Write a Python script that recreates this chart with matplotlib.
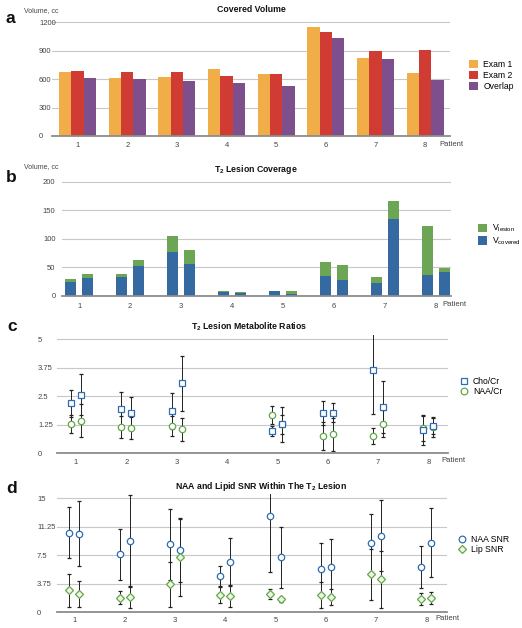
import numpy as np
import matplotlib.pyplot as plt
from matplotlib.lines import Line2D

W, H = 522, 628

plt.rcParams['font.family'] = ['Liberation Sans Narrow', 'Liberation Sans', 'DejaVu Sans']
plt.rcParams['mathtext.fontset'] = 'custom'
plt.rcParams['mathtext.rm'] = 'Liberation Sans'
plt.rcParams['mathtext.it'] = 'Liberation Sans'
plt.rcParams['mathtext.bf'] = 'Liberation Sans:bold'

patients = np.arange(1, 9)

# a: covered volume, cc
exam1 = [675, 608, 622, 703, 654, 1146, 823, 668]
exam2 = [682, 672, 675, 636, 650, 1097, 893, 904]
overlap = [608, 605, 580, 559, 524, 1030, 812, 594]

# b: T2 lesion coverage, cc (two exams per patient)
lesion_1 = [29, 38.6, 104.7, 7.6, 8.8, 58.5, 32.7, 123]
covered_1 = [24.6, 32.7, 76.6, 7, 8.8, 34, 22, 36]
lesion_2 = [38, 62, 80.7, 6.4, 8.2, 53, 166, 48.5]
covered_2 = [31.6, 52, 55.6, 4, 3, 28, 135, 41]

# c: metabolite ratios (mean, sd), patient 4 has none
nan = np.nan
cho_1 = [2.19, 1.96, 1.86, nan, 0.98, 1.78, 3.65, 1.02]
cho_1_sd = [0.59, 0.74, 0.80, nan, 0.22, 0.53, 1.92, 0.66]
cho_2 = [2.56, 1.75, 3.07, nan, 1.27, 1.78, 2.02, 1.21]
cho_2_sd = [0.90, 0.70, 1.20, nan, 0.77, 0.41, 1.15, 0.35]
naa_1 = [1.27, 1.17, 1.20, nan, 1.68, 0.76, 0.76, 1.10]
naa_1_sd = [0.39, 0.48, 0.44, nan, 0.40, 0.61, 0.35, 0.55]
naa_2 = [1.43, 1.11, 1.05, nan, 1.27, 0.83, 1.29, 1.14]
naa_2_sd = [0.73, 0.48, 0.50, nan, 0.42, 0.73, 0.59, 0.44]

# d: SNR (mean, sd)
naa_snr_1 = [10.48, 7.63, 8.95, 4.78, 12.63, 5.66, 9.08, 5.96]
naa_snr_1_sd = [3.34, 3.33, 4.65, 1.36, 7.32, 3.42, 3.86, 2.77]
naa_snr_2 = [10.35, 9.43, 8.20, 6.58, 7.24, 5.92, 10.09, 9.17]
naa_snr_2_sd = [4.30, 6.05, 4.26, 3.16, 4.03, 3.68, 4.69, 4.51]
lip_snr_1 = [2.90, 1.93, 3.68, 2.28, 2.46, 2.28, 5.00, 1.75]
lip_snr_1_sd = [2.20, 0.83, 2.99, 1.10, 0.65, 1.67, 3.33, 0.84]
lip_snr_2 = [2.46, 2.06, 7.24, 2.15, 1.71, 1.97, 4.34, 1.89]
lip_snr_2_sd = [1.71, 1.44, 5.10, 1.45, 0.35, 1.06, 3.77, 0.83]

ORANGE, RED, PURPLE = '#F0AD48', '#D03B33', '#7E4F8D'
GREEN, BLUE = '#6CA553', '#3569A2'
MBLUE, MGREEN = '#2F6CB0', '#62A748'
TXT = '#444444'
BOLD = ['Liberation Sans', 'DejaVu Sans']

fig = plt.figure(figsize=(W / 100, H / 100), dpi=100)


def axes_px(l, t, r, b):
    return fig.add_axes([l / W, 1 - b / H, (r - l) / W, (b - t) / H])


def style(ax, xlim, ylim, yticks, ylabels, left_px, ylab_x, ylab_ha, xpad):
    ax.set_xlim(*xlim)
    ax.set_ylim(*ylim)
    ax.set_xticks(patients)
    ax.set_xticklabels([str(p) for p in patients])
    ax.set_yticks(yticks)
    ax.set_yticklabels(ylabels)
    for s in ['left', 'right', 'top']:
        ax.spines[s].set_visible(False)
    ax.spines['bottom'].set_color('#8c8c8c')
    ax.spines['bottom'].set_linewidth(1.3)
    ax.yaxis.grid(True, color='#c8c8c8', lw=0.8)
    ax.set_axisbelow(True)
    ax.tick_params(length=0, labelsize=5.5, labelcolor=TXT)
    ax.tick_params(axis='x', pad=xpad)
    ax.tick_params(axis='y', pad=(left_px - ylab_x) * 0.72)
    for lab in ax.get_yticklabels():
        lab.set_ha(ylab_ha)


def ftext(x, y, s, **kw):
    return fig.text(x / W, 1 - y / H, s, **kw)


# ---- a
ax_a = axes_px(52, 18, 450, 136)
w = 0.247
ax_a.bar(patients - w, exam1, w, color=ORANGE, label='Exam 1')
ax_a.bar(patients, exam2, w, color=RED, label='Exam 2')
ax_a.bar(patients + w, overlap, w, color=PURPLE, label='Overlap')
style(ax_a, (0.485, 8.5), (0, 1245), [0, 300, 600, 900, 1200],
      ['0', '300', '600', '900', '1200'], 52, 39, 'left', 4)
ax_a.legend(loc='upper left', bbox_to_anchor=(469 / W, 1 - 60 / H),
            bbox_transform=fig.transFigure, frameon=False, fontsize=6.2,
            handlelength=1.1, handleheight=1.1, handletextpad=0.55,
            labelspacing=0.2, borderpad=0, borderaxespad=0)

# ---- b
ax_b = axes_px(61.7, 177.4, 451, 295.7)
bw, off = 0.222, 0.169
ax_b.bar(patients - off, lesion_1, bw, color=GREEN, label=r'V$_{\mathregular{lesion}}$')
ax_b.bar(patients - off, covered_1, bw, color=BLUE, label=r'V$_{\mathregular{covered}}$')
ax_b.bar(patients + off, lesion_2, bw, color=GREEN)
ax_b.bar(patients + off, covered_2, bw, color=BLUE)
style(ax_b, (0.659, 8.29), (0, 207.6), [0, 50, 100, 150, 200],
      ['0', '50', '100', '150', '200'], 61.7, 55.5, 'right', 5)
ax_b.legend(loc='upper left', bbox_to_anchor=(478 / W, 1 - 223 / H),
            bbox_transform=fig.transFigure, frameon=False, fontsize=6.2,
            handlelength=1.1, handleheight=1.1, handletextpad=0.5,
            labelspacing=0.1, borderpad=0, borderaxespad=0)

# ---- c
ax_c = axes_px(57, 335, 448, 453.3)
eb = dict(fmt='none', ecolor='#222222', elinewidth=0.7, capsize=1.3,
          capthick=0.9, zorder=2)
mk = dict(ls='none', mfc='white', ms=4.6, mew=0.9, zorder=3)
c_off = 0.1
ax_c.errorbar(patients - c_off, cho_1, yerr=cho_1_sd, **eb)
ax_c.errorbar(patients + c_off, cho_2, yerr=cho_2_sd, **eb)
ax_c.errorbar(patients - c_off, naa_1, yerr=naa_1_sd, **eb)
ax_c.errorbar(patients + c_off, naa_2, yerr=naa_2_sd, **eb)
ax_c.plot(patients - c_off, naa_1, marker='o', mec=MGREEN, **mk)
ax_c.plot(patients + c_off, naa_2, marker='o', mec=MGREEN, **mk)
ax_c.plot(patients - c_off, cho_1, marker='s', mec=MBLUE, **mk)
ax_c.plot(patients + c_off, cho_2, marker='s', mec=MBLUE, **mk)
style(ax_c, (0.622, 8.39), (0, 5.19), [0, 1.25, 2.5, 3.75, 5],
      ['0', '1.25', '2.5', '3.75', '5'], 57, 38, 'left', 4)
hc = [Line2D([], [], marker='s', mec=MBLUE, mfc='white', ls='none', ms=4.8, mew=0.9),
      Line2D([], [], marker='o', mec=MGREEN, mfc='white', ls='none', ms=4.8, mew=0.9)]
fig.legend(hc, ['Cho/Cr', 'NAA/Cr'], loc='upper left',
           bbox_to_anchor=(461 / W, 1 - 377 / H), frameon=False, fontsize=6.2,
           handlelength=0.8, handletextpad=0.6, labelspacing=0.15,
           borderpad=0, borderaxespad=0)

# ---- d
ax_d = axes_px(57, 494, 447, 612.3)
ax_d.errorbar(patients - c_off, naa_snr_1, yerr=naa_snr_1_sd, **eb)
ax_d.errorbar(patients + c_off, naa_snr_2, yerr=naa_snr_2_sd, **eb)
ax_d.errorbar(patients - c_off, lip_snr_1, yerr=lip_snr_1_sd, **eb)
ax_d.errorbar(patients + c_off, lip_snr_2, yerr=lip_snr_2_sd, **eb)
ax_d.plot(patients - c_off, naa_snr_1, marker='o', mec=MBLUE, **mk)
ax_d.plot(patients + c_off, naa_snr_2, marker='o', mec=MBLUE, **mk)
dk = dict(mk, ms=3.6, mfc='#eef6e8')
ax_d.plot(patients - c_off, lip_snr_1, marker='D', mec=MGREEN, **dk)
ax_d.plot(patients + c_off, lip_snr_2, marker='D', mec=MGREEN, **dk)
style(ax_d, (0.656, 8.41), (0, 15.57), [0, 3.75, 7.5, 11.25, 15],
      ['0', '3.75', '7.5', '11.25', '15'], 57, 37, 'left', 3.5)
hd = [Line2D([], [], marker='o', mec=MBLUE, mfc='white', ls='none', ms=4.8, mew=0.9),
      Line2D([], [], marker='D', mec=MGREEN, mfc='#eef6e8', ls='none', ms=3.6, mew=0.9)]
fig.legend(hd, ['NAA SNR', 'Lip SNR'], loc='upper left',
           bbox_to_anchor=(459 / W, 1 - 535 / H), frameon=False, fontsize=6.2,
           handlelength=0.8, handletextpad=0.6, labelspacing=0.15,
           borderpad=0, borderaxespad=0)

# ---- titles, letters, axis notes
titles = [('Covered Volume', 251, 12.3),
          (r'T$_{\mathregular{2}}$ Lesion Coverage', 256, 171.7),
          (r'T$_{\mathregular{2}}$ Lesion Metabolite Ratios', 249, 329.3),
          (r'NAA and Lipid SNR Within The T$_{\mathregular{2}}$ Lesion', 261, 489.3)]
for s, x, y in titles:
    ftext(x, y, s, ha='center', va='baseline', fontsize=6.3,
          fontweight='bold', family=BOLD, color='#111111')

for s, x, y in [('a', 6, 22.7), ('b', 6, 181.7), ('c', 7.5, 330.7), ('d', 6, 492.7)]:
    ftext(x, y, s, ha='left', va='baseline', fontsize=12.5,
          fontweight='bold', family=BOLD, color='#111111')

for y in [12, 168]:
    ftext(23.5, y, 'Volume, cc', ha='left', va='baseline', fontsize=5,
          family=BOLD, color=TXT)

for x, y in [(439, 144.5), (442, 305), (441, 461), (435, 619)]:
    ftext(x, y, 'Patient', ha='left', va='center', fontsize=5.5, color=TXT)

fig.savefig('out.png', dpi=100)
